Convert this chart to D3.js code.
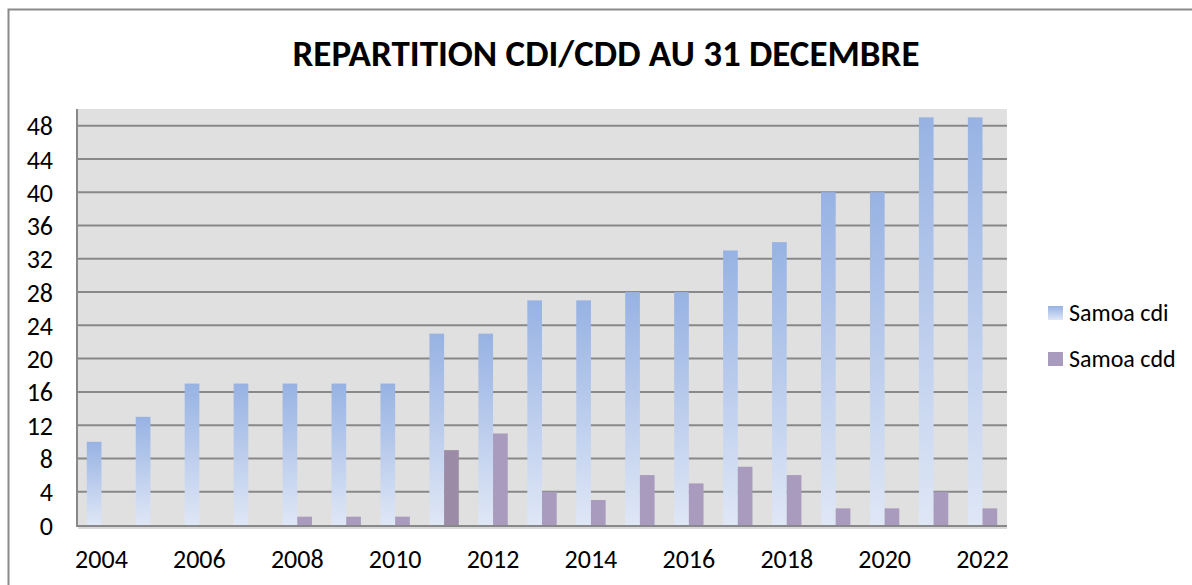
<!DOCTYPE html>
<html><head><meta charset="utf-8">
<script src="https://cdn.jsdelivr.net/npm/d3@7"></script>
<style>body{margin:0;background:#fff;}svg{display:block;font-family:Carlito,Lato,"Open Sans",sans-serif;}</style>
</head><body>
<svg id="c" width="1192" height="585"></svg>
<script>
const years = [2004,2005,2006,2007,2008,2009,2010,2011,2012,2013,2014,2015,2016,2017,2018,2019,2020,2021,2022];
const cdi = [10,13,17,17,17,17,17,23,23,27,27,28,28,33,34,40,40,49,49];
const cdd = [0,0,0,0,1,1,1,9,11,4,3,6,5,7,6,2,2,4,2];
const yTicks = [0,4,8,12,16,20,24,28,32,36,40,44,48];
const xLabels = [2004,2006,2008,2010,2012,2014,2016,2018,2020,2022];
const seriesNames = ["Samoa cdi","Samoa cdd"];
const title = "REPARTITION CDI/CDD AU 31 DECEMBRE";

const svg = d3.select("#c");
const L=77,R=1007,T=109,B=525;
svg.append("rect").attr("x",8.5).attr("y",9.5).attr("width",1200).attr("height",600).attr("fill","none").attr("stroke","#8a8a8a").attr("stroke-width",2);

const defs = svg.append("defs");
const g1 = defs.append("linearGradient").attr("id","gcdi").attr("x1",0).attr("y1",0).attr("x2",0).attr("y2",1);
g1.append("stop").attr("offset","0%").attr("stop-color","#97b2e3");
g1.append("stop").attr("offset","100%").attr("stop-color","#dfe7f6");

const x = d3.scaleBand().domain(years).range([L,R]).paddingInner(0).paddingOuter(0);
const y = d3.scaleLinear().domain([0,50]).range([B,T]);
const bw = x.bandwidth()*0.3;

svg.append("rect").attr("x",L).attr("y",T).attr("width",R-L).attr("height",B-T).attr("fill","#e0e0e0");

svg.append("g").selectAll("line").data(yTicks.filter(d=>d>0)).join("line")
  .attr("x1",L).attr("x2",R).attr("y1",d=>y(d)).attr("y2",d=>y(d))
  .attr("stroke","#888").attr("stroke-width",2);

svg.append("g").selectAll("rect").data(years).join("rect")
  .attr("x",d=>x(d)+x.bandwidth()/2-bw).attr("width",bw)
  .attr("y",(d,i)=>y(cdi[i])).attr("height",(d,i)=>B-y(cdi[i]))
  .attr("fill","url(#gcdi)");
svg.append("g").selectAll("rect").data(years).join("rect")
  .attr("x",d=>x(d)+x.bandwidth()/2).attr("width",bw)
  .attr("y",(d,i)=>y(cdd[i])).attr("height",(d,i)=>B-y(cdd[i]))
  .attr("fill",(d,i)=>d===2011?"#9b8ba6":"#a99bbd");

svg.append("line").attr("x1",L).attr("x2",L).attr("y1",T).attr("y2",B+1).attr("stroke","#888").attr("stroke-width",2);
svg.append("line").attr("x1",L-1).attr("x2",R).attr("y1",B+1).attr("y2",B+1).attr("stroke","#888").attr("stroke-width",2);
svg.append("line").attr("x1",L+1).attr("x2",R).attr("y1",B+3).attr("y2",B+3).attr("stroke","#ccc").attr("stroke-width",1.5);

const ya = svg.append("g").attr("transform",`translate(53,0)`).call(d3.axisLeft(y).tickValues(yTicks).tickSize(0).tickPadding(0));
ya.select(".domain").remove();
ya.selectAll("text").attr("font-size",26).attr("fill","#000").attr("font-family","Carlito,Lato,sans-serif").attr("dy","0.35em");

const xa = svg.append("g").attr("transform",`translate(0,${B})`).call(d3.axisBottom(x).tickValues(xLabels).tickSize(0).tickPadding(0));
xa.select(".domain").remove();
xa.selectAll("text").attr("font-size",26).attr("fill","#000").attr("font-family","Carlito,Lato,sans-serif").attr("dy",null).attr("y",43);

svg.append("text").attr("x",606).attr("y",66).attr("text-anchor","middle").attr("font-size",37).attr("font-weight","bold").text(title);

const lg = svg.append("g").selectAll("g").data(seriesNames).join("g").attr("transform",(d,i)=>`translate(1048,${306+i*46})`);
lg.append("rect").attr("width",15).attr("height",14).attr("fill",(d,i)=>i===0?"url(#gcdi)":"#a99bbd");
lg.append("text").attr("x",21).attr("y",7).attr("dy","0.35em").attr("font-size",24).text(d=>d);
</script>
</body></html>
